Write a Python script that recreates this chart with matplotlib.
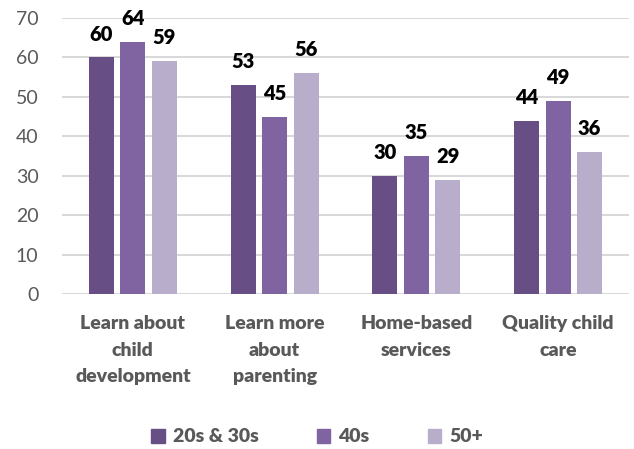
import matplotlib
matplotlib.use("Agg")
import matplotlib.pyplot as plt
import numpy as np

plt.rcParams["font.family"] = ["Lato", "DejaVu Sans"]

categories = ["Learn about\nchild\ndevelopment", "Learn more\nabout\nparenting",
              "Home-based\nservices", "Quality child\ncare"]
series_names = ["20s & 30s", "40s", "50+"]
age_20s_30s = [60, 53, 30, 44]
age_40s = [64, 45, 35, 49]
age_50_plus = [59, 56, 29, 36]
colors = ["#674f86", "#8064a2", "#b8adcb"]

fig = plt.figure(figsize=(6.34, 4.49), dpi=100)
ax = fig.add_axes([62 / 634, 1 - 294 / 449, 567 / 634, 276 / 449])

x = np.arange(len(categories))
bar_w = 0.176
step = 0.222
for i, (name, vals, c) in enumerate(zip(series_names, [age_20s_30s, age_40s, age_50_plus], colors)):
    bars = ax.bar(x + (i - 1) * step, vals, bar_w, color=c, label=name, zorder=3)
    for rect, v in zip(bars, vals):
        ax.annotate(f"{v}", xy=(rect.get_x() + rect.get_width() / 2, v),
                    xytext=(0, 10), textcoords="offset points",
                    ha="center", va="bottom", fontsize=14.5, fontweight="heavy",
                    color="black")

ax.set_xlim(-0.5, len(categories) - 0.5)
ax.set_ylim(0, 70)
ax.set_yticks(range(0, 71, 10))
ax.yaxis.grid(True, color="#d9d9d9", linewidth=1.5, zorder=0)
ax.set_axisbelow(True)
for s in ax.spines.values():
    s.set_visible(False)
ax.tick_params(axis="both", length=0)
ax.tick_params(axis="y", labelsize=14, labelcolor="#595959", pad=17)
ax.set_xticks(x)
ax.set_xticklabels(categories, fontsize=14, fontweight="heavy", color="#595959",
                   linespacing=1.7)
ax.tick_params(axis="x", pad=15)

handles = [plt.Rectangle((0, 0), 1, 1, color=c) for c in colors]
fig.legend(handles, series_names, loc="center", bbox_to_anchor=(0.5, 1 - 437 / 449),
           ncol=3, frameon=False, prop={"size": 14, "weight": "heavy"},
           handlelength=0.7, handleheight=0.7, handletextpad=0.4, columnspacing=3.0,
           labelcolor="#595959")

fig.savefig("out.png", dpi=100)
